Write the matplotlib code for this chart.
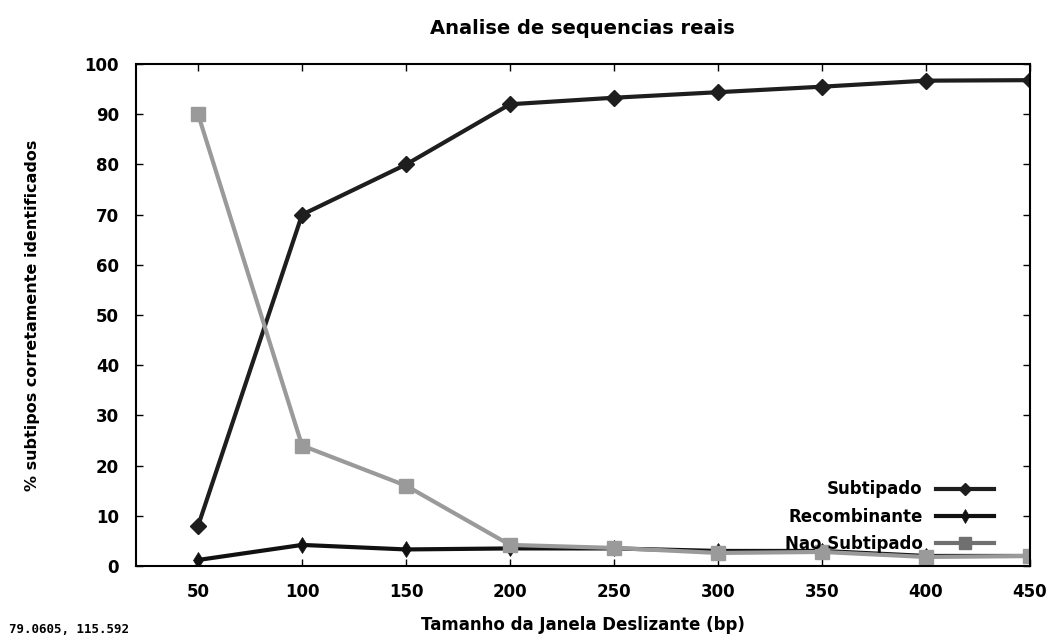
import matplotlib
matplotlib.use('Agg')
import matplotlib.pyplot as plt

plt.rcParams['font.family'] = ['DejaVu Sans']

# janelas (bp) e percentuais
janelas = [50, 100, 150, 200, 250, 300, 350, 400, 450]
subtipado = [8, 70, 80, 92, 93.3, 94.4, 95.5, 96.7, 96.8]
recombinante = [1.2, 4.2, 3.3, 3.5, 3.5, 3.0, 3.0, 2.0, 2.0]
nao_subtipado = [90, 24, 16, 4.2, 3.6, 2.6, 2.8, 1.8, 2.0]

yticks = list(range(0, 101, 10))

fig = plt.figure(figsize=(10.52, 6.41), dpi=100)
ax = fig.add_axes([0.129, 0.117, 0.850, 0.783])

ax.plot(janelas, subtipado, color='#1e1e1e', linewidth=3, marker='D',
        markersize=8, label='Subtipado')
ax.plot(janelas, recombinante, color='#111111', linewidth=3, marker='d',
        markersize=8, markeredgewidth=0.5, label='Recombinante')
ax.plot(janelas, nao_subtipado, color='#9a9a9a', linewidth=3, marker='s',
        markersize=10, label='Nao Subtipado')

ax.set_xlim(20, 450)
ax.set_ylim(0, 100)
ax.set_xticks(janelas)
ax.set_yticks(yticks)
ax.tick_params(direction='in', length=5, width=1, top=True, right=True,
               labelsize=12, pad=12)
for lbl in ax.get_xticklabels() + ax.get_yticklabels():
    lbl.set_fontweight('bold')
for s in ax.spines.values():
    s.set_linewidth(1.5)

ax.set_title('Analise de sequencias reais', fontsize=14, fontweight='bold', pad=22)
ax.set_xlabel('Tamanho da Janela Deslizante (bp)', fontsize=12,
              fontweight='bold', labelpad=11)
ax.set_ylabel('% subtipos corretamente identificados', fontsize=11.5,
              fontweight='bold', labelpad=32)

leg = ax.legend(loc='lower right', frameon=False, markerfirst=False,
                fontsize=12, handlelength=3.5, labelspacing=0.55,
                borderaxespad=0.4, bbox_to_anchor=(0.975, 0.0))
for t in leg.get_texts():
    t.set_fontweight('bold')
leg.legend_handles[0].set_markersize(6)
leg.legend_handles[1].set_markersize(7)
leg.legend_handles[2].set_color('#707070')
leg.legend_handles[2].set_markersize(9)

fig.text(0.009, 0.012, '79.0605, 115.592', fontsize=9, fontweight='bold',
         family='DejaVu Sans Mono')

fig.savefig('out.png', dpi=100)
